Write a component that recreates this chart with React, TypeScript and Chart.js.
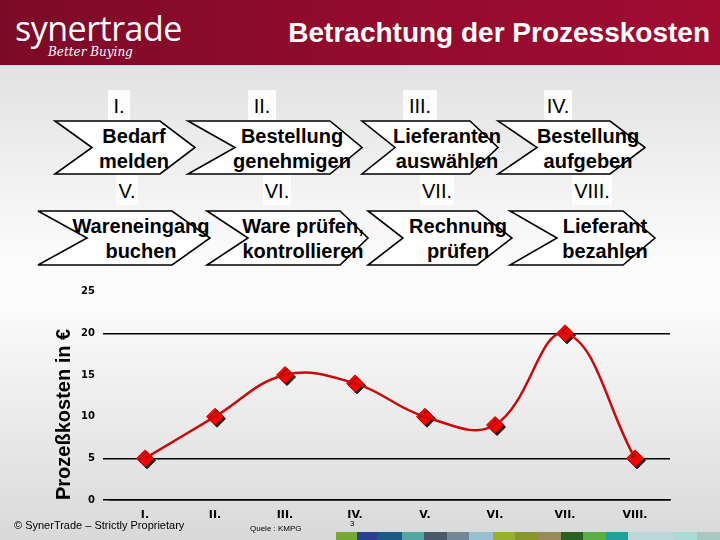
import React, { useEffect, useRef } from "react";
import { Chart, registerables } from "chart.js";

Chart.register(...registerables);

// ---- data ----
const categories = ["I.", "II.", "III.", "IV.", "V.", "VI.", "VII.", "VIII."];
const costs = [5, 10, 15, 14, 10, 9, 20, 5];
const yMin = 0;
const yMax = 25;
const yStep = 5;
const gridValues = [0, 5, 20];
const axisTitle = "Prozeßkosten in €";
const pageTitle = "Betrachtung der Prozesskosten";
const stepNumerals = ["I.", "II.", "III.", "IV.", "V.", "VI.", "VII.", "VIII."];
const stepTexts = [
  ["Bedarf", "melden"],
  ["Bestellung", "genehmigen"],
  ["Lieferanten", "auswählen"],
  ["Bestellung", "aufgeben"],
  ["Wareneingang", "buchen"],
  ["Ware prüfen,", "kontrollieren"],
  ["Rechnung", "prüfen"],
  ["Lieferant", "bezahlen"],
];
const footerColors = [
  "#78a830", "#2a4090", "#1a5a8a", "#50a8a0", "#485a68", "#708898", "#98c0d0",
  "#98b030", "#889828", "#9a8a58", "#2a6020", "#58b040", "#20a098", "#bcd8da",
  "#a8dcd4", "#a8c8c0",
];

// ---- decorative layout (not data) ----
// left, notch, rightTop, tip, top, bottom, textCenterX, numeralX
const chevronLayout = [
  [55, 92, 160, 195, 121, 174, 134, 119],
  [188, 235, 330, 362, 121, 174, 292, 262],
  [362, 395, 470, 498, 121, 174, 447, 420],
  [498, 537, 610, 645, 121, 174, 588, 558],
  [38, 87, 172, 210, 211, 265, 141, 127],
  [207, 248, 340, 368, 211, 265, 303, 277],
  [368, 403, 477, 512, 211, 265, 458, 437],
  [510, 557, 623, 655, 211, 265, 605, 592],
];
const footerSegX = [336, 357, 377, 402, 424, 447, 469, 493, 515, 538, 561, 583, 606, 628, 673, 697, 720];

const pointShadow = {
  id: "pointShadow",
  beforeDatasetDraw(chart: any, args: any) {
    if (args.index === 1) {
      const c = chart.ctx;
      c.save();
      c.shadowColor = "rgba(20,0,0,0.9)";
      c.shadowOffsetX = 2;
      c.shadowOffsetY = 2;
      c.shadowBlur = 0;
    }
  },
  afterDatasetDraw(chart: any, args: any) {
    if (args.index === 1) chart.ctx.restore();
  },
};

function ProcessChart() {
  const ref = useRef<HTMLCanvasElement | null>(null);
  useEffect(() => {
    if (!ref.current) return;
    const chart = new Chart(ref.current, {
      type: "line",
      data: {
        labels: categories,
        datasets: [
          {
            data: costs,
            borderColor: "#c80a0a",
            borderWidth: 2.5,
            tension: 0.4,
            pointRadius: 0,
            fill: false,
          },
          {
            data: costs,
            showLine: false,
            pointStyle: "rectRot",
            pointRadius: 8.5,
            pointBackgroundColor: "#ff0000",
            pointBorderColor: "#e00000",
            pointBorderWidth: 1,
          },
        ],
      },
      options: {
        responsive: false,
        animation: false,
        layout: { padding: { left: 52, right: 50, top: 21.7, bottom: 0 } },
        plugins: { legend: { display: false }, tooltip: { enabled: false } },
        scales: {
          x: {
            offset: true,
            afterFit: (s: any) => { s.height = 40; },
            grid: { display: false, drawTicks: false },
            border: { display: true, color: "#000", width: 1.5 },
            ticks: {
              color: "#000",
              padding: 9,
              font: { family: "'DejaVu Sans', sans-serif", weight: "bold", size: 11 },
            },
          },
          y: {
            min: yMin,
            max: yMax,
            afterFit: (s: any) => { s.width = 58; },
            border: { display: false },
            grid: {
              drawTicks: true,
              tickLength: 7,
              lineWidth: 1.5,
              color: (ctx: any) =>
                gridValues.includes(ctx.tick?.value) ? "#000" : "rgba(0,0,0,0)",
            },
            ticks: {
              stepSize: yStep,
              color: "#000",
              padding: 8,
              font: { family: "'DejaVu Sans', sans-serif", weight: "bold", size: 10 },
            },
            title: {
              display: true,
              text: axisTitle,
              align: "start",
              color: "#000",
              padding: 0,
              font: { family: "'Liberation Sans', Arial, sans-serif", weight: "bold", size: 20 },
            },
          },
        },
      },
      plugins: [pointShadow],
    } as any);
    return () => chart.destroy();
  }, []);
  return (
    <canvas
      ref={ref}
      width={720}
      height={270}
      style={{ position: "absolute", left: 0, top: 270, width: 720, height: 270 }}
    />
  );
}

export default function App() {
  return (
    <div
      style={{
        position: "absolute",
        left: 0,
        top: 0,
        width: 720,
        height: 540,
        overflow: "hidden",
        fontFamily: "'Liberation Sans', Arial, sans-serif",
        background:
          "linear-gradient(to bottom, #e2e2e2 65px, #fbfbfb 255px, #fcfcfc 300px, #d9d9d9 540px)",
      }}
    >
      <div
        style={{
          position: "absolute",
          left: 0,
          top: 0,
          width: 720,
          height: 65,
          background: "linear-gradient(90deg, #7c0a27 0%, #8e0b2c 40%, #a00c31 100%)",
        }}
      />
      <svg width={720} height={540} style={{ position: "absolute", left: 0, top: 0 }}>
        <text x={15} y={41} fill="#fff" fontFamily="'Open Sans', sans-serif" fontSize={34} letterSpacing={-0.5}>
          synertrade
        </text>
        <text x={48} y={56} fill="#fff" fontFamily="'DejaVu Serif', serif" fontStyle="italic" fontSize={12}>
          Better Buying
        </text>
        <text x={710} y={42} fill="#fff" textAnchor="end" fontFamily="'Liberation Sans', sans-serif" fontWeight="bold" fontSize={28}>
          {pageTitle}
        </text>
        {chevronLayout.map((c, i) => {
          const [l, n, r, t, y0, y1, tx, nx] = c;
          const ym = (y0 + y1) / 2;
          const row = i < 4 ? 0 : 1;
          const numBase = row === 0 ? 113 : 198;
          const lineBase = row === 0 ? [143, 168] : [233, 258];
          const w = stepNumerals[i].length * 6 + 10;
          return (
            <g key={i}>
              <rect x={nx - w / 2} y={numBase - 23} width={w} height={30} fill="#fdfdfd" />
              <text x={nx} y={numBase} textAnchor="middle" fontSize={20} fill="#000">
                {stepNumerals[i]}
              </text>
              <polygon
                points={`${l},${y0} ${r},${y0} ${t},${ym} ${r},${y1} ${l},${y1} ${n},${ym}`}
                fill="#ffffff"
                stroke="#000"
                strokeWidth={1.6}
              />
              <text x={tx} y={lineBase[0]} textAnchor="middle" fontSize={20} fontWeight="bold" fill="#000">
                {stepTexts[i][0]}
              </text>
              <text x={tx} y={lineBase[1]} textAnchor="middle" fontSize={20} fontWeight="bold" fill="#000">
                {stepTexts[i][1]}
              </text>
            </g>
          );
        })}
      </svg>
      <ProcessChart />
      <svg width={720} height={540} style={{ position: "absolute", left: 0, top: 0, pointerEvents: "none" }}>
        <text x={14} y={529} fontSize={11} fill="#000">© SynerTrade – Strictly Proprietary</text>
        <text x={250} y={531} fontSize={8} fill="#000">Quele : KMPG</text>
        <text x={350} y={526} fontSize={8} fill="#000">3</text>
        {footerColors.map((col, i) => (
          <rect key={i} x={footerSegX[i]} y={532} width={footerSegX[i + 1] - footerSegX[i]} height={8} fill={col} />
        ))}
      </svg>
    </div>
  );
}
